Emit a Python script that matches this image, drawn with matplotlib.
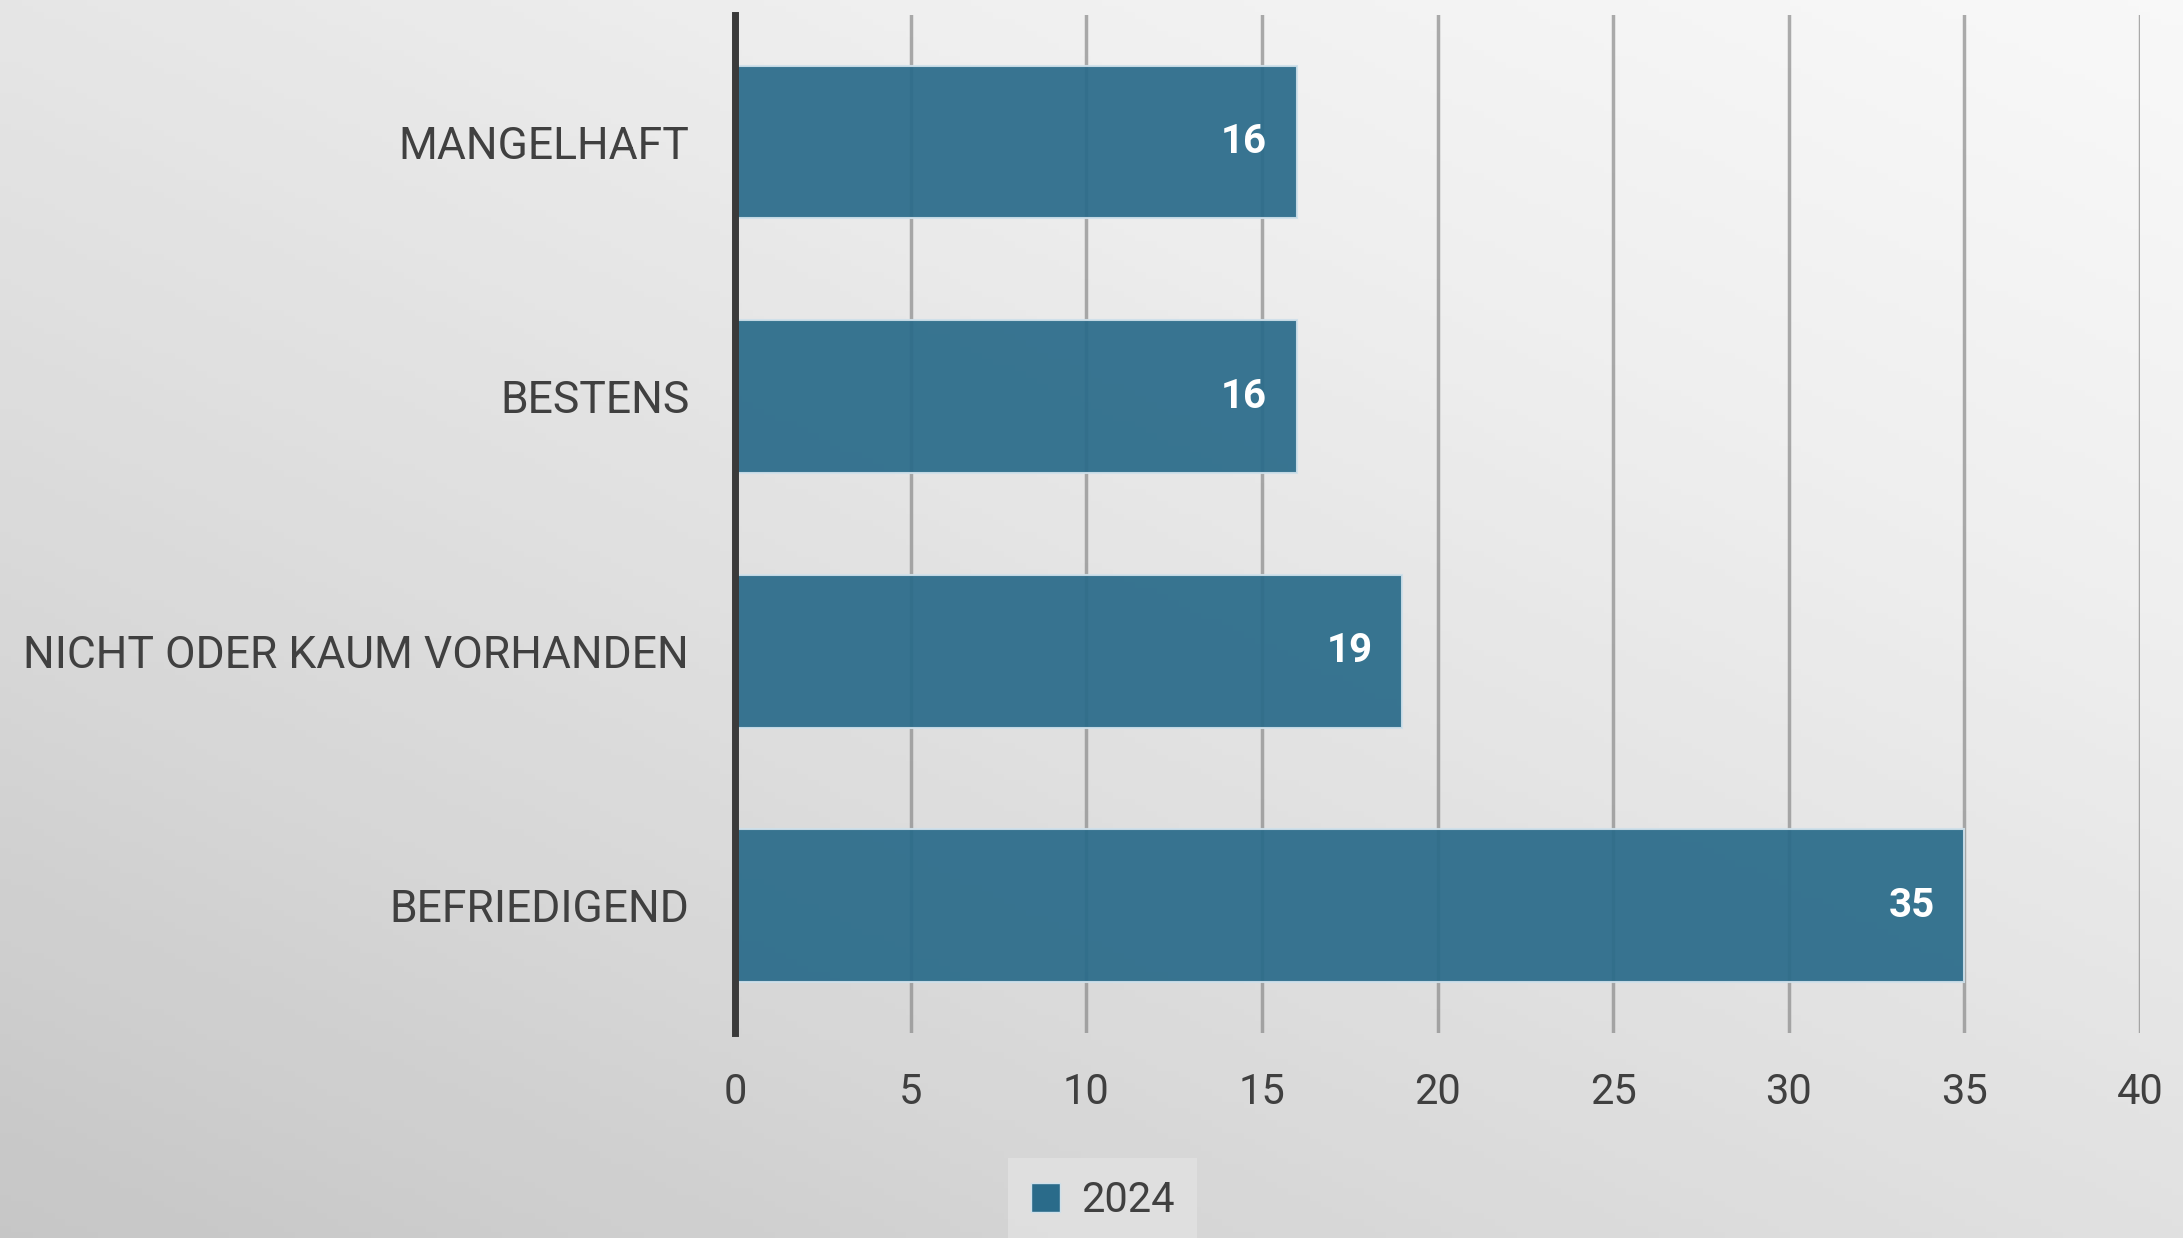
import numpy as np
import matplotlib.pyplot as plt
from matplotlib.patches import Patch

# data
categories = ['BEFRIEDIGEND', 'NICHT ODER KAUM VORHANDEN', 'BESTENS', 'MANGELHAFT']
values = [35, 19, 16, 16]
series_name = '2024'
xticks = [0, 5, 10, 15, 20, 25, 30, 35, 40]

plt.rcParams['font.family'] = ['Roboto', 'DejaVu Sans']

fig = plt.figure(figsize=(21.83, 12.38), dpi=100)

# gradient background
bg = fig.add_axes([0, 0, 1, 1], zorder=-10)
yy, xx = np.mgrid[0:1:200j, 0:1:200j]
grad = 0.45 * xx + 0.55 * yy
bg.imshow(grad, cmap='Greys_r', vmin=-2.4, vmax=1.2, origin='lower',
          extent=[0, 1, 0, 1], aspect='auto')
bg.axis('off')

ax = fig.add_axes([0.3367, 0.1656, 0.6436, 0.8224])
ax.patch.set_alpha(0)

ax.grid(axis='x', color='#8a8a8a', linewidth=2.5, alpha=0.7, zorder=0)
ax.set_axisbelow(True)
bars = ax.barh(categories, values, height=0.6, color='#2a6b8a', alpha=0.93,
               edgecolor='#cfe0ea', linewidth=1.5, zorder=2)

for b, v in zip(bars, values):
    ax.text(b.get_width() - 0.85, b.get_y() + b.get_height() / 2, str(v),
            ha='right', va='center', color='white', fontsize=29,
            fontweight='bold', zorder=3)

ax.set_xlim(0, 40)
ax.set_ylim(-0.5, 3.5)
ax.set_xticks(xticks)
for s in ['top', 'right', 'bottom']:
    ax.spines[s].set_visible(False)
ax.spines['left'].set_color('#3a3a3a')
ax.spines['left'].set_linewidth(5)
ax.spines['left'].set_zorder(4)
ax.tick_params(axis='y', length=0, labelsize=32, colors='#404040', pad=33)
ax.tick_params(axis='x', length=0, labelsize=30, colors='#404040', pad=28)

handle = Patch(facecolor='#2a6b8a', edgecolor='#cfe0ea', label=series_name)
leg = fig.legend(handles=[handle], loc='lower center',
                 bbox_to_anchor=(0.505, -0.022), fontsize=30, frameon=True,
                 fancybox=False, handlelength=0.7, handleheight=0.7,
                 handletextpad=0.5, borderpad=0.55)
leg.get_frame().set_facecolor('#e2e2e2')
leg.get_frame().set_edgecolor('none')
for t in leg.get_texts():
    t.set_color('#404040')

fig.savefig('out.png', dpi=100)
